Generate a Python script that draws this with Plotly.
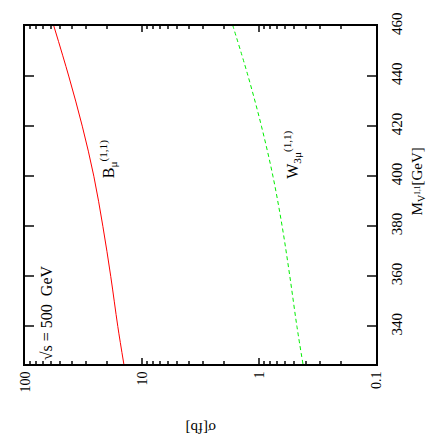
import plotly.graph_objects as go

# masses [GeV] and cross sections [fb]
mass = [325, 340, 360, 380, 400, 420, 440, 460]
sigma_b = [14.3, 16.1, 18.5, 21.6, 25.8, 32.4, 42.3, 56.7]
sigma_w = [0.421, 0.474, 0.545, 0.634, 0.76, 0.953, 1.24, 1.67]

sigma_ticks = [100, 10, 1, 0.1]
sigma_ticktext = ['100', '10', '1', '0.1']
sigma_minor = [90, 80, 70, 60, 50, 40, 30, 20,
               9, 8, 7, 6, 5, 4, 3, 2,
               0.9, 0.8, 0.7, 0.6, 0.5, 0.4, 0.3, 0.2]
mass_ticks = [340, 360, 380, 400, 420, 440, 460]

FONT = 'Liberation Serif'

fig = go.Figure()
fig.add_trace(go.Scatter(x=sigma_b, y=mass, mode='lines', line_shape='spline',
                         line=dict(color='#ff0000', width=1)))
fig.add_trace(go.Scatter(x=sigma_w, y=mass, mode='lines', line_shape='spline',
                         line=dict(color='#00ee00', width=1, dash='4px,3px')))

fig.update_layout(
    width=436, height=436,
    margin=dict(l=25, r=60, t=24, b=72),
    paper_bgcolor='white', plot_bgcolor='white',
    showlegend=False,
    font=dict(family=FONT, size=14, color='black'),
    xaxis=dict(type='log', range=[2, -1], tickmode='array',
               tickvals=sigma_ticks, ticktext=sigma_ticktext,
               ticks='inside', ticklen=6, tickwidth=1.5, tickangle=-90,
               showline=True, linewidth=2, linecolor='black', mirror='ticks',
               showgrid=False, zeroline=False,
               minor=dict(tickmode='array', tickvals=sigma_minor,
                          ticks='inside', ticklen=3, tickwidth=1.5, showgrid=False)),
    yaxis=dict(range=[325, 460], side='right', tickmode='array',
               tickvals=mass_ticks, ticks='inside', ticklen=9, tickwidth=1.5,
               tickangle=-90, ticklabelstandoff=6, tickfont=dict(size=15),
               showline=True, linewidth=2, linecolor='black',
               mirror='ticks', showgrid=False, zeroline=False),
)

# axis titles (the whole plot is turned on its side)
fig.add_annotation(text='σ[fb]', xref='paper', yref='paper', x=0.5, y=-0.19,
                   xanchor='center', yanchor='middle',
                   showarrow=False, textangle=180, font=dict(size=15))
fig.add_annotation(text='M<sub>V<sup>1,1</sup></sub>[GeV]', xref='paper', yref='paper',
                   x=1.12, y=0.54, xanchor='center', yanchor='middle',
                   showarrow=False, textangle=-90, font=dict(size=15))

# curve labels
fig.add_annotation(text='B<sub>μ</sub><sup>(1,1)</sup>', x=1.295, y=407,
                   showarrow=False, textangle=-90, font=dict(size=16))
fig.add_annotation(text='W<sub>3μ</sub><sup>(1,1)</sup>', x=-0.285, y=408.7,
                   showarrow=False, textangle=-90, font=dict(size=16))
fig.add_annotation(text='√s = 500  GeV', x=1.816, y=345.5,
                   showarrow=False, textangle=-90, font=dict(size=16))

# drop the page's default body margin so the figure sits at the window corner
fig.write_html("out.html", config={'displayModeBar': False},
               post_script="document.body.style.margin='0';")
